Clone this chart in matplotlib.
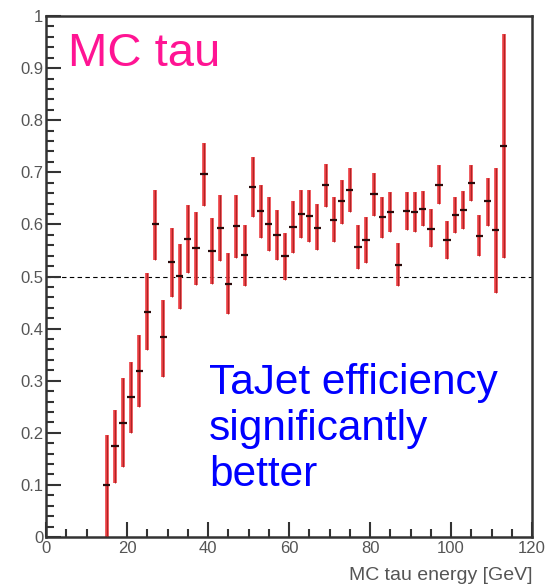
import matplotlib.pyplot as plt
import numpy as np

# bin centres [GeV], efficiency and its errors
energy = np.arange(15, 115, 2)
eff = [0.100, 0.174, 0.219, 0.269, 0.319, 0.432, 0.600, 0.383, 0.527, 0.501,
       0.572, 0.554, 0.697, 0.549, 0.594, 0.486, 0.597, 0.541, 0.672, 0.625,
       0.600, 0.580, 0.539, 0.595, 0.620, 0.617, 0.594, 0.675, 0.609, 0.644,
       0.666, 0.557, 0.571, 0.659, 0.614, 0.624, 0.523, 0.626, 0.624, 0.630,
       0.592, 0.676, 0.570, 0.618, 0.628, 0.679, 0.578, 0.644, 0.589, 0.750]
err_lo = [0.100, 0.070, 0.085, 0.069, 0.069, 0.073, 0.068, 0.076, 0.066, 0.064,
          0.065, 0.070, 0.062, 0.063, 0.064, 0.058, 0.061, 0.059, 0.058, 0.052,
          0.052, 0.048, 0.046, 0.049, 0.047, 0.050, 0.043, 0.042, 0.042, 0.044,
          0.042, 0.043, 0.046, 0.043, 0.041, 0.038, 0.041, 0.037, 0.038, 0.034,
          0.036, 0.037, 0.037, 0.035, 0.037, 0.035, 0.039, 0.047, 0.120, 0.215]
err_hi = [0.096, 0.070, 0.086, 0.067, 0.069, 0.075, 0.067, 0.072, 0.067, 0.061,
          0.065, 0.070, 0.060, 0.063, 0.062, 0.059, 0.059, 0.057, 0.057, 0.051,
          0.052, 0.048, 0.045, 0.049, 0.047, 0.049, 0.045, 0.041, 0.043, 0.041,
          0.042, 0.042, 0.043, 0.040, 0.039, 0.039, 0.041, 0.037, 0.039, 0.035,
          0.038, 0.038, 0.037, 0.035, 0.036, 0.035, 0.040, 0.046, 0.119, 0.215]
half_bin = 0.9

plt.rcParams['font.family'] = ['Liberation Sans', 'DejaVu Sans']

fig = plt.figure(figsize=(5.45, 5.85), dpi=100)
ax = fig.add_axes([0.0844, 0.0821, 0.892, 0.8905])

# 50% reference line
ax.axhline(0.5, color='black', lw=0.8, ls=(0, (4, 3)), zorder=1)

# vertical errors in red, bin markers as short dark dashes
ax.errorbar(energy, eff, yerr=[err_lo, err_hi], fmt='none',
            ecolor='#ea3c40', elinewidth=2.6, capsize=0, zorder=2)
ax.errorbar(energy, eff, yerr=[err_lo, err_hi], fmt='none',
            ecolor='#a02020', elinewidth=0.6, capsize=0, zorder=3)
ax.errorbar(energy, eff, xerr=half_bin, fmt='none',
            ecolor='#2a0a0a', elinewidth=1.6, capsize=0, zorder=4)

ax.set_xlim(0, 120)
ax.set_ylim(0, 1)
ax.set_xticks(np.arange(0, 121, 20))
ax.set_xticks(np.arange(0, 121, 5), minor=True)
ax.set_yticks(np.arange(0, 1.01, 0.1))
ax.set_yticks(np.arange(0, 1.001, 0.02), minor=True)
ax.set_yticklabels(['0', '0.1', '0.2', '0.3', '0.4', '0.5', '0.6', '0.7', '0.8', '0.9', '1'])

ax.tick_params(which='both', direction='in', color='#333333', width=1.5,
               labelcolor='#555555', labelsize=12)
ax.tick_params(which='major', length=11, pad=3)
ax.tick_params(which='minor', length=6)
ax.tick_params(axis='y', pad=2)

for side in ['left', 'bottom', 'top', 'right']:
    ax.spines[side].set_color('#333333')
    ax.spines[side].set_linewidth(1.8)

ax.set_xlabel('MC tau energy [GeV]', color='#555555', fontsize=14, loc='right', labelpad=8)

ax.text(0.045, 0.905, 'MC tau', transform=ax.transAxes, color='#ff1493',
        fontsize=34, ha='left', va='baseline')
ax.text(0.335, 0.098, 'TaJet efficiency\nsignificantly\nbetter', transform=ax.transAxes,
        color='#0000ff', fontsize=30.5, ha='left', va='baseline', linespacing=1.2)

plt.savefig('out.png', dpi=100)
